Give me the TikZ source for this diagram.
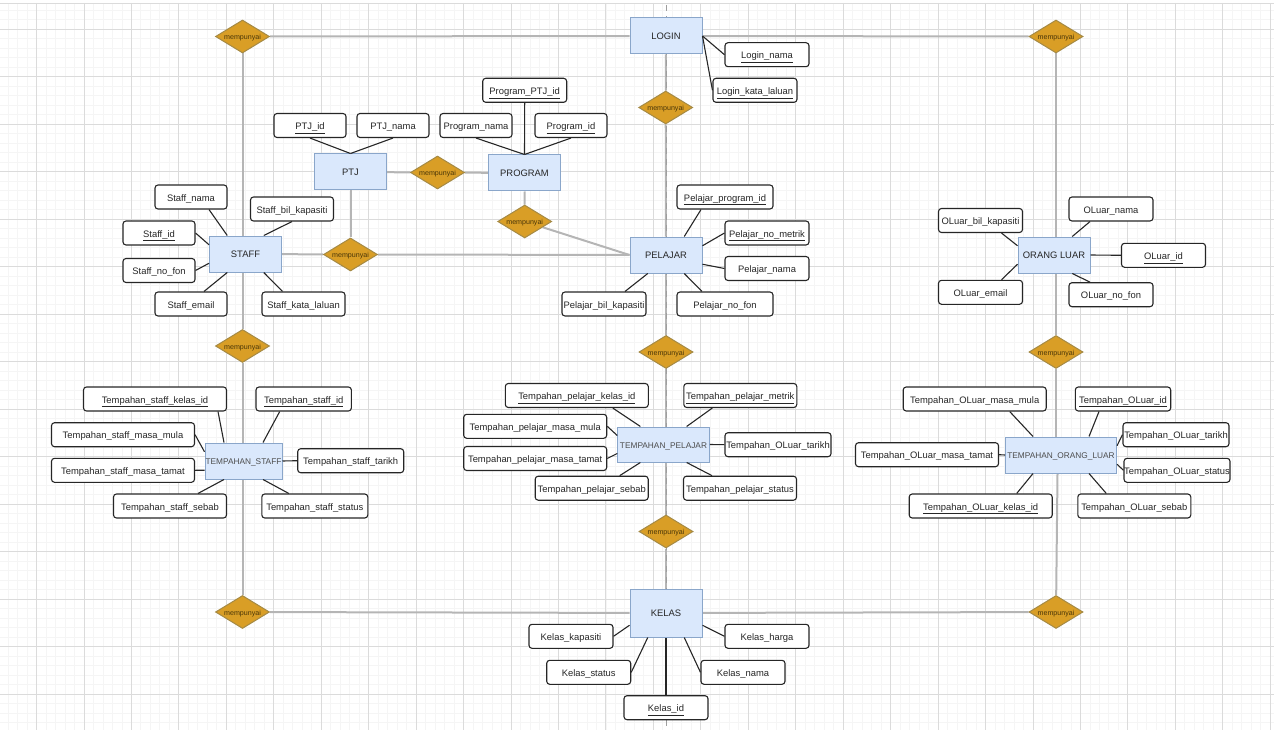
\documentclass[tikz,border=0pt]{standalone}
\usepackage{fontspec}
\setmainfont{Liberation Sans}
\usetikzlibrary{calc,backgrounds,shapes.geometric}
\definecolor{entfill}{HTML}{DAE8FC}
\definecolor{entline}{HTML}{8AA6CA}
\definecolor{relfill}{HTML}{D99E26}
\definecolor{relline}{HTML}{A58A45}
\definecolor{reltext}{HTML}{4A3608}
\definecolor{linkgray}{HTML}{B5B5B5}
\tikzset{
  entity/.style={rectangle, draw=entline, fill=entfill, line width=1pt, inner sep=0pt,
                 minimum width=72pt, minimum height=36pt, text=black!85,
                 text height=7pt, text depth=0pt,
                 font=\fontsize{9.4}{11}\selectfont},
  longentity/.style={entity, text=black!70, font=\fontsize{8.3}{10}\selectfont},
  rel/.style={diamond, draw=relline, fill=relfill, line width=1pt, inner sep=0pt, aspect=1.64,
              minimum width=54pt, minimum height=33pt, text=reltext,
              text height=6.2pt, text depth=0pt,
              font=\fontsize{7.1}{8}\selectfont},
  attr/.style={rectangle, rounded corners=3pt, draw=black!85, fill=white, line width=1.1pt,
               inner sep=0pt, minimum height=24pt, text=black!85,
               text height=9.5pt, text depth=1pt,
               font=\fontsize{9.4}{11}\selectfont},
  conn/.style={draw=black!85, line width=1.1pt},
  link/.style={draw=linkgray, line width=2pt},
  minorline/.style={draw=black!4, line width=0.8pt},
  majorline/.style={draw=black!14, line width=0.9pt},
  guide/.style={draw=black!38, line width=1pt, dash pattern=on 6pt off 5pt}
}
\begin{document}
\begin{tikzpicture}[x=1pt,y=-1pt]
  \useasboundingbox (0,0) rectangle (1274,730);

  % entities
  \foreach \n/\x/\y/\w/\h/\t in {
    login/666/36/72/36/LOGIN, ptj/350.5/172/72/36/PTJ, program/524.5/173/72/36/PROGRAM,
    staff/245.5/254/72/36/STAFF, pelajar/666/255/72/36/PELAJAR, oluar/1054/255/72/36/ORANG LUAR,
    kelas/666/613/72/48/KELAS}
    \node[entity, minimum width=\w pt, minimum height=\h pt] (\n) at (\x,\y) {\t};
  \foreach \n/\x/\y/\w/\h/\t in {
    tstaff/243.5/461/77/36/TEMPAHAN\_STAFF, tpelajar/663.5/444.5/91.5/35/TEMPAHAN\_PELAJAR,
    toluar/1061/455/111/36/TEMPAHAN\_ORANG\_LUAR}
    \node[longentity, minimum width=\w pt, minimum height=\h pt] (\n) at (\x,\y) {\t};

  % quarter points on the entity sides
  \foreach \e in {staff,pelajar,oluar,tstaff,tpelajar,toluar,kelas} {
    \coordinate (\e-n1) at ($(\e.north west)!.25!(\e.north east)$);
    \coordinate (\e-n3) at ($(\e.north west)!.75!(\e.north east)$);
    \coordinate (\e-s1) at ($(\e.south west)!.25!(\e.south east)$);
    \coordinate (\e-s3) at ($(\e.south west)!.75!(\e.south east)$);
    \coordinate (\e-w1) at ($(\e.north west)!.25!(\e.south west)$);
    \coordinate (\e-w3) at ($(\e.north west)!.75!(\e.south west)$);
    \coordinate (\e-e1) at ($(\e.north east)!.25!(\e.south east)$);
    \coordinate (\e-e3) at ($(\e.north east)!.75!(\e.south east)$);
  }

  % relations
  \foreach \n/\x/\y in {
    rlogstaff/242.5/36.5, rlogoluar/1056/36.5, rlogpel/665.7/107.5, rptjprog/437.5/172.5,
    rprogpel/524.7/221.5, rstaffpel/350.5/254.5, rstafft/242.5/346, rpelt/666/352,
    roluart/1056/352, rtpelkelas/666/531.5, rkelstaff/242.5/612, rkeloluar/1056/612}
    \node[rel] (\n) at (\x,\y) {mempunyai};

  % attributes
  \foreach \n/\x/\y/\w/\t in {
    stnama/191/197/72/Staff\_nama, stfon/159/270.5/72/Staff\_no\_fon, stemail/191/304/72/Staff\_email,
    stkata/303.5/304/83/Staff\_kata\_laluan, stbil/292/209/83/Staff\_bil\_kapasiti,
    ptjnama/393/125.5/72/PTJ\_nama, prnama/476/125.5/72/Program\_nama,
    penama/767/268.5/84/Pelajar\_nama, pefon/725/304/96/Pelajar\_no\_fon,
    pebil/604/304/84/Pelajar\_bil\_kapasiti,
    olbil/980.5/220.5/84/OLuar\_bil\_kapasiti, olnama/1111/209/84/OLuar\_nama,
    olfon/1111/294.7/84/OLuar\_no\_fon, olemail/980.5/292.3/84/OLuar\_email,
    tomula/974.7/399/143/Tempahan\_OLuar\_masa\_mula, totarikh/1176/434.7/106/Tempahan\_OLuar\_tarikh,
    tostatus/1177/470.3/106/Tempahan\_OLuar\_status, totamat/927/454.7/143/Tempahan\_OLuar\_masa\_tamat,
    tosebab/1134.3/506/113/Tempahan\_OLuar\_sebab,
    tsmula/123/434.7/143/Tempahan\_staff\_masa\_mula, tstamat/123/470.3/143/Tempahan\_staff\_masa\_tamat,
    tstarikh/350.7/460.7/106/Tempahan\_staff\_tarikh, tssebab/170/506/113/Tempahan\_staff\_sebab,
    tsstatus/314.8/506/106/Tempahan\_staff\_status,
    tpmula/535.2/426.3/143/Tempahan\_pelajar\_masa\_mula, tptamat/535.2/458.5/143/Tempahan\_pelajar\_masa\_tamat,
    tptarikh/778/444.7/106/Tempahan\_OLuar\_tarikh, tpsebab/591.7/488.2/113/Tempahan\_pelajar\_sebab,
    tpstatus/740/488.2/113/Tempahan\_pelajar\_status,
    kekapasiti/571/636.3/84/Kelas\_kapasiti, keharga/767/636.3/84/Kelas\_harga,
    kestatus/588.7/672.3/84/Kelas\_status, kenama/743/672.3/84/Kelas\_nama}
    \node[attr, minimum width=\w pt] (\n) at (\x,\y) {\t};

  % key attributes
  \foreach \n/\x/\y/\w/\t in {
    stid/159/233/72/Staff\_id, ptjid/310/125.5/72/PTJ\_id, prptj/524.7/90.3/84/Program\_PTJ\_id,
    prid/571/125.5/72/Program\_id, lonama/767/54.7/84/Login\_nama, lokata/755/90.3/84/Login\_kata\_laluan,
    peprog/725/197/96/Pelajar\_program\_id, pemetrik/767/233/84/Pelajar\_no\_metrik,
    olid/1163.5/255.3/84/OLuar\_id, toid/1123/399/95.4/Tempahan\_OLuar\_id,
    tokelas/980.7/506/143/Tempahan\_OLuar\_kelas\_id,
    tskelas/155/399/143/Tempahan\_staff\_kelas\_id, tsid/303.7/399/95.4/Tempahan\_staff\_id,
    tpkelas/576.8/395.5/143/Tempahan\_pelajar\_kelas\_id, tpmetrik/740.3/395.5/113/Tempahan\_pelajar\_metrik,
    keid/666/707.7/84/Kelas\_id}
    \node[attr, minimum width=\w pt] (\n) at (\x,\y) {\underline{\t}};

  % attribute connectors
  \foreach \a/\d/\b in {
    stnama.south/18/staff-n1, stid.east/0/staff-w1, stfon.east/0/staff-w3, stemail.north/13/staff-s1,
    stkata.north/-21/staff-s3, stbil.south/0/staff-n3,
    ptjid.south/0/ptj.north, ptjnama.south/0/ptj.north,
    prnama.south/0/program.north, prptj.south/0/program.north, prid.south/0/program.north,
    lonama.west/0/login.east, lokata.west/0/login.east,
    peprog.south/-24/pelajar-n3, pemetrik.west/0/pelajar-e1, penama.west/0/pelajar-e3,
    pebil.north/21/pelajar-s1, pefon.north/-23/pelajar-s3,
    olbil.south/21/oluar-w1, olemail.north/21/oluar-w3, olnama.south/-21/oluar-n3,
    olid.west/0/oluar.east, olfon.north/-21/oluar-s3,
    tomula.south/35/toluar-n1, toid.south/-24/toluar-n3, totarikh.west/0/toluar-e1,
    tostatus.west/0/toluar-e3, totamat.east/0/toluar.west, tokelas.north/36/toluar-s1,
    tosebab.north/-28/toluar-s3,
    tskelas.south/63/tstaff-n1, tsid.south/-24/tstaff-n3, tsmula.east/0/tstaff-w1,
    tstamat.east/0/tstaff-w3, tstarikh.west/0/tstaff.east, tssebab.north/28/tstaff-s1,
    tsstatus.north/-26/tstaff-s3,
    tpkelas.south/36/tpelajar-n1, tpmetrik.south/-28/tpelajar-n3, tpmula.east/0/tpelajar-w1,
    tptamat.east/0/tpelajar-w3, tptarikh.west/0/tpelajar.east, tpsebab.north/28/tpelajar-s1,
    tpstatus.north/-28/tpelajar-s3,
    kekapasiti.east/0/kelas-w3, keharga.west/0/kelas-e3, kestatus.east/0/kelas-s1,
    kenama.west/0/kelas-s3, keid.north/0/kelas.south}
    \draw[conn] ([xshift=\d pt]\a) -- (\b);

  \begin{scope}[on background layer]
    % paper grid
    \foreach \i [evaluate=\i as \gx using -1.46+9.49*\i] in {0,...,135}
      \draw[minorline] (\gx,3) -- (\gx,730);
    \foreach \i [evaluate=\i as \gy using 9.5*\i-9] in {2,...,78}
      \draw[minorline] (0,\gy) -- (1274,\gy);
    \foreach \i [evaluate=\i as \gx using 36.5+47.45*\i] in {0,...,26}
      \draw[majorline] (\gx,3) -- (\gx,730);
    \foreach \i [evaluate=\i as \gy using 29+47.5*\i] in {0,...,14}
      \draw[majorline] (0,\gy) -- (1274,\gy);
    \draw[majorline] (0,3) -- (1274,3);

    % relationship lines
    \draw[link] (rlogstaff) -- (login);
    \draw[link] (login) -- (rlogoluar);
    \draw[link] (rlogstaff) -- (rlogstaff |- staff.north);
    \draw[link] (rstafft |- staff.south) -- (rstafft);
    \draw[link] (rstafft) -- (rstafft |- tstaff.north);
    \draw[link] (rkelstaff |- tstaff.south) -- (rkelstaff);
    \draw[link] (rkelstaff) -- (kelas);
    \draw[link] (kelas) -- (rkeloluar);
    \draw[link] (rlogoluar) -- (rlogoluar |- oluar.north);
    \draw[link] (roluart |- oluar.south) -- (roluart);
    \draw[link] (roluart) -- (roluart |- toluar.north);
    \draw[link] (rkeloluar) -- ([xshift=-3.5pt]toluar.south);
    \draw[link] (login) -- (rlogpel);
    \draw[link] (rlogpel) -- (pelajar);
    \draw[link] (pelajar) -- (rpelt);
    \draw[link] (rpelt) -- (rpelt |- tpelajar.north);
    \draw[link] (rtpelkelas |- tpelajar.south) -- (rtpelkelas);
    \draw[link] (rtpelkelas) -- (kelas);
    \draw[link] (ptj) -- (rptjprog);
    \draw[link] (rptjprog) -- (program);
    \draw[link] (program) -- (rprogpel);
    \draw[link] (rprogpel) -- (pelajar.west);
    \draw[link] (staff) -- (rstaffpel);
    \draw[link] (rstaffpel) -- (pelajar);
    \draw[link] (ptj) -- (rstaffpel);
    \draw[guide] (666,5) -- (666,730);
  \end{scope}
\end{tikzpicture}
\end{document}
